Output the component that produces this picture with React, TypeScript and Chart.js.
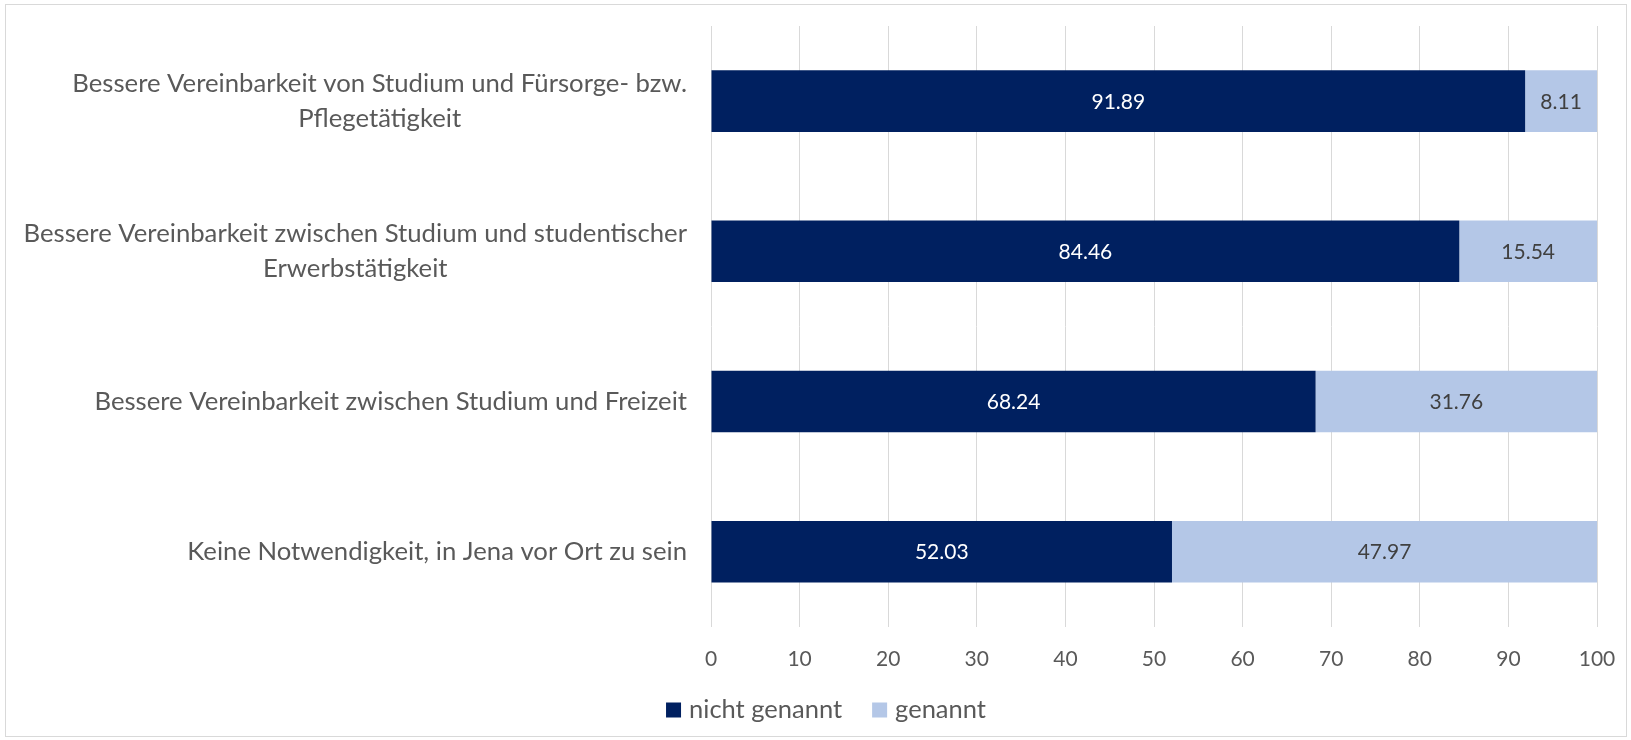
import React, { useEffect, useRef } from "react";
import { Chart, registerables } from "chart.js";

Chart.register(...registerables);

// ---- Data ----
const categories: (string | string[])[] = [
  ["Bessere Vereinbarkeit von Studium und Fürsorge- bzw.", "Pflegetätigkeit"],
  ["Bessere Vereinbarkeit zwischen Studium und studentischer", "Erwerbstätigkeit"],
  "Bessere Vereinbarkeit zwischen Studium und Freizeit",
  "Keine Notwendigkeit, in Jena vor Ort zu sein",
];
const seriesNames = ["nicht genannt", "genannt"];
const notMentioned = [91.89, 84.46, 68.24, 52.03];
const mentioned = [8.11, 15.54, 31.76, 47.97];
const xMin = 0;
const xMax = 100;
const xStep = 10;

// ---- Styles ----
const FONT = "Lato";
const TEXT = "#595959";
const DARK = "#002060";
const LIGHT = "#B4C7E7";
const GRID = "#d9d9d9";
const seriesColors = [DARK, LIGHT];

const categoryLabelPlugin = {
  id: "categoryLabels",
  afterDraw(chart: any) {
    const ctx = chart.ctx as CanvasRenderingContext2D;
    const yScale = chart.scales.y;
    ctx.save();
    ctx.font = `25.7px ${FONT}`;
    ctx.fillStyle = TEXT;
    ctx.textAlign = "center";
    ctx.textBaseline = "middle";
    const right = chart.chartArea.left - 24;
    const lineH = 35;
    categories.forEach((lab, i) => {
      const lines = Array.isArray(lab) ? lab : [lab];
      const w = Math.max(...lines.map((l) => ctx.measureText(l).width));
      const cx = right - w / 2;
      const cy = yScale.getPixelForValue(i);
      lines.forEach((l, j) => {
        ctx.fillText(l, cx, cy + (j - (lines.length - 1) / 2) * lineH);
      });
    });
    ctx.restore();
  },
};

const dataLabelPlugin = {
  id: "barValueLabels",
  afterDatasetsDraw(chart: any) {
    const ctx = chart.ctx as CanvasRenderingContext2D;
    ctx.save();
    ctx.font = `21px ${FONT}`;
    ctx.textAlign = "center";
    ctx.textBaseline = "middle";
    chart.data.datasets.forEach((ds: any, di: number) => {
      const meta = chart.getDatasetMeta(di);
      ctx.fillStyle = di === 0 ? "#ffffff" : "#404040";
      meta.data.forEach((el: any, i: number) => {
        const { x, base, y } = el.getProps(["x", "base", "y"], true);
        ctx.fillText(Number(ds.data[i]).toFixed(2), (x + base) / 2, y + 1);
      });
    });
    ctx.restore();
  },
};

// Legend drawn centred below the axis (centred on the whole chart, as in the reference)
const legendPlugin = {
  id: "customLegend",
  afterDraw(chart: any) {
    const ctx = chart.ctx as CanvasRenderingContext2D;
    ctx.save();
    ctx.font = `25.5px ${FONT}`;
    ctx.textBaseline = "middle";
    ctx.textAlign = "left";
    const box = 15;
    const gapText = 8;
    const gapItems = 30;
    const widths = seriesNames.map((n) => ctx.measureText(n).width);
    const total = widths.reduce((a, w) => a + box + gapText + w, 0) + gapItems * (seriesNames.length - 1);
    const centerX = 826;
    const cy = 710;
    let x = centerX - total / 2;
    seriesNames.forEach((n, i) => {
      ctx.fillStyle = seriesColors[i];
      ctx.fillRect(x, cy - box / 2, box, box);
      ctx.fillStyle = TEXT;
      ctx.fillText(n, x + box + gapText, cy);
      x += box + gapText + widths[i] + gapItems;
    });
    ctx.restore();
  },
};

export default function App() {
  const canvasRef = useRef<HTMLCanvasElement | null>(null);

  useEffect(() => {
    if (!canvasRef.current) return;
    const chart = new Chart(canvasRef.current, {
      type: "bar",
      data: {
        labels: categories.map((c) => (Array.isArray(c) ? c.join(" ") : c)),
        datasets: [
          {
            label: seriesNames[0],
            data: notMentioned,
            backgroundColor: DARK,
            borderWidth: 0,
            barPercentage: 0.41,
            categoryPercentage: 1,
          },
          {
            label: seriesNames[1],
            data: mentioned,
            backgroundColor: LIGHT,
            borderWidth: 0,
            barPercentage: 0.41,
            categoryPercentage: 1,
          },
        ],
      },
      options: {
        indexAxis: "y",
        responsive: false,
        maintainAspectRatio: false,
        animation: false,
        layout: { padding: { left: 711, right: 34, top: 26, bottom: 66 } },
        scales: {
          x: {
            stacked: true,
            min: xMin,
            max: xMax,
            ticks: {
              stepSize: xStep,
              color: TEXT,
              font: { family: FONT, size: 21 },
              padding: 2,
            },
            grid: {
              color: GRID,
              lineWidth: 1,
              drawTicks: true,
              tickLength: 18,
              tickColor: "rgba(0,0,0,0)",
            },
            border: { display: false },
          },
          y: {
            stacked: true,
            display: false,
          },
        },
        plugins: {
          legend: { display: false },
          tooltip: { enabled: false },
        },
      },
      plugins: [categoryLabelPlugin, dataLabelPlugin, legendPlugin],
    } as any);
    return () => chart.destroy();
  }, []);

  return (
    <div style={{ position: "absolute", left: 0, top: 0, width: 1631, height: 740, background: "#fff" }}>
      <canvas ref={canvasRef} width={1631} height={740} style={{ width: 1631, height: 740, display: "block" }} />
      <div
        style={{
          position: "absolute",
          left: 5,
          top: 4,
          width: 1622,
          height: 733,
          border: "1px solid #d9d9d9",
          boxSizing: "border-box",
          pointerEvents: "none",
        }}
      />
    </div>
  );
}
